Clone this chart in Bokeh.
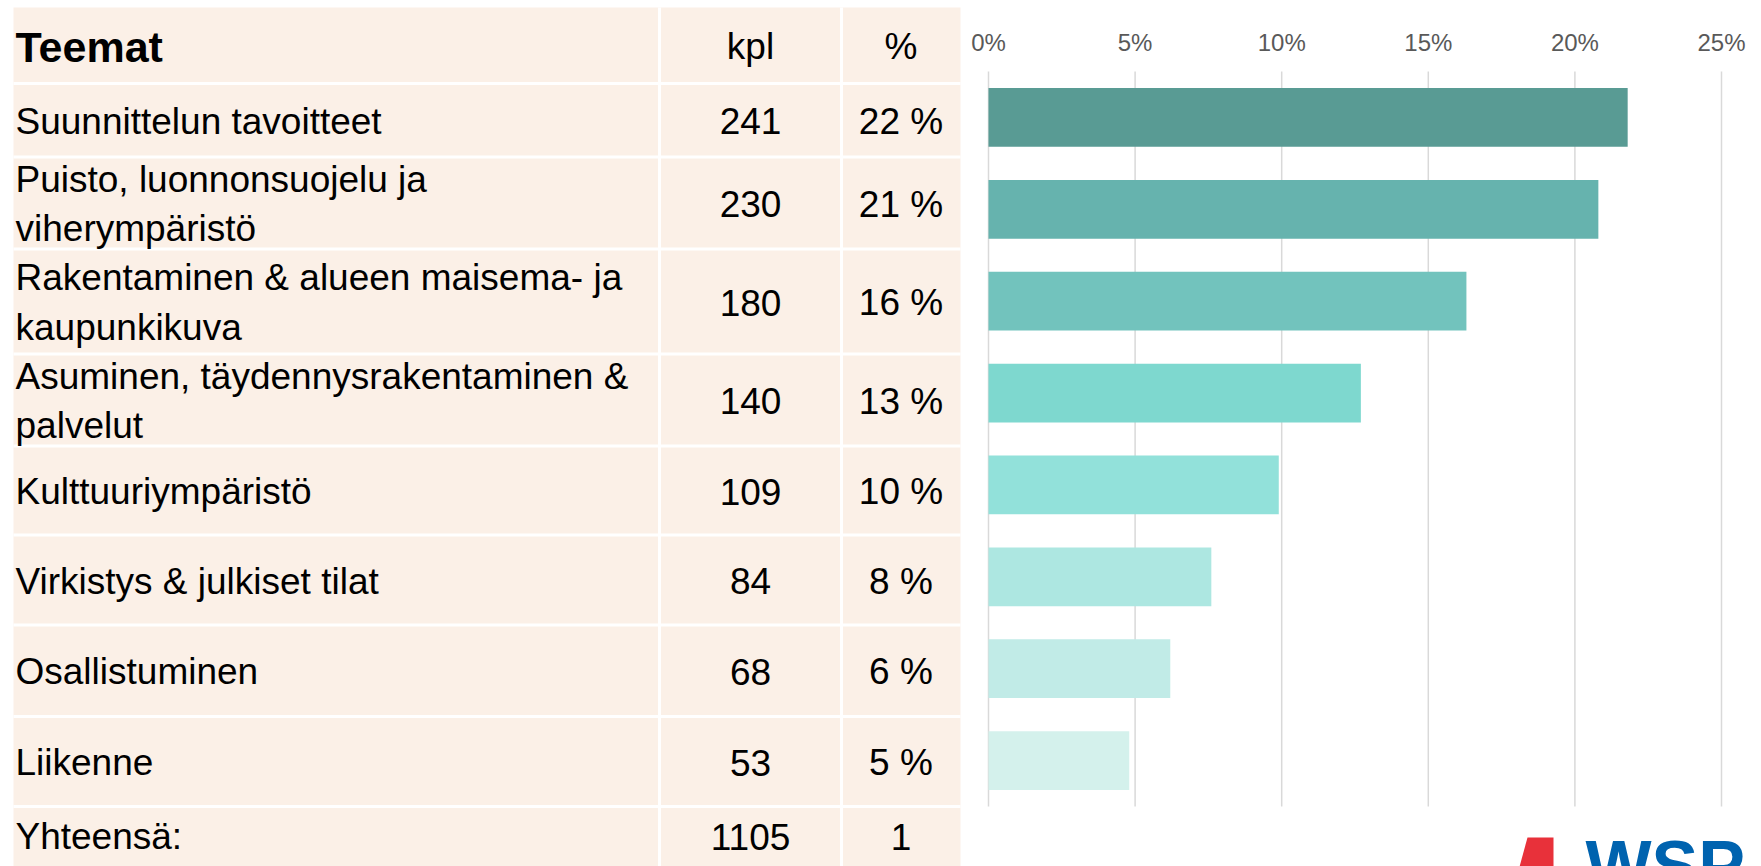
from bokeh.plotting import figure
from bokeh.models import Range1d
from bokeh.core.properties import value
from bokeh.embed import file_html
from bokeh.resources import INLINE

# ---------------- data ----------------
header = ["Teemat", "kpl", "%"]
themes = [
    "Suunnittelun tavoitteet",
    "Puisto, luonnonsuojelu ja\nviherympäristö",
    "Rakentaminen & alueen maisema- ja\nkaupunkikuva",
    "Asuminen, täydennysrakentaminen &\npalvelut",
    "Kulttuuriympäristö",
    "Virkistys & julkiset tilat",
    "Osallistuminen",
    "Liikenne",
]
counts = [241, 230, 180, 140, 109, 84, 68, 53]
pct_labels = ["22 %", "21 %", "16 %", "13 %", "10 %", "8 %", "6 %", "5 %"]
shares = [21.8, 20.8, 16.3, 12.7, 9.9, 7.6, 6.2, 4.8]
total_row = ["Yhteensä:", "1105", "1"]
tick_values = [0, 5, 10, 15, 20, 25]
tick_labels = ["0%", "5%", "10%", "15%", "20%", "25%"]
bar_colors = ["#599B94", "#66B3AE", "#72C3BD", "#7ED8CF",
              "#92E1DA", "#ADE7E1", "#C1EBE7", "#D4F1EC"]

# ---------------- style / layout (pixel coordinates of the picture) ----------------
FONT = value("Liberation Sans")
CREAM = "#FBF0E7"
W, H = 1761, 866
row_edges = [7, 83, 156.5, 248.5, 353.5, 445.5, 534.5, 624.5, 716, 806, 866]
col_edges = [13, 659, 841, 960]
text_x = [15, (col_edges[1] + col_edges[2]) / 2, (col_edges[2] + col_edges[3]) / 2]

# chart area: 0 % at x 988, 25 % at 1721; bars spaced over y 71..806
X0, X25 = 988.0, 1721.0
px_per_pct = (X25 - X0) / 25.0
GTOP, GBOT = 71.0, 806.0
px_per_bar = (GBOT - GTOP) / len(themes)

p = figure(width=W, height=H, x_range=Range1d(0, W), y_range=Range1d(H, 0),
           x_axis_location=None, y_axis_location=None, min_border=0,
           output_backend="svg", toolbar_location=None)
p.grid.visible = False
p.outline_line_color = None
p.background_fill_color = "white"
p.extra_x_ranges = {"pct": Range1d(-X0 / px_per_pct, (W - X0) / px_per_pct)}
p.extra_y_ranges = {"idx": Range1d(-0.5 + (H - GTOP) / px_per_bar,
                                   -0.5 - GTOP / px_per_bar)}

# ---------------- table ----------------
p.quad(left=col_edges[0], right=col_edges[-1], top=row_edges[0], bottom=row_edges[-1] + 10,
       fill_color=CREAM, line_color=None)
inner_rows = row_edges[1:-1]
p.segment(x0=[col_edges[0]] * len(inner_rows), x1=[col_edges[-1]] * len(inner_rows),
          y0=inner_rows, y1=inner_rows, line_color="white", line_width=3)
inner_cols = col_edges[1:-1]
p.segment(x0=inner_cols, x1=inner_cols, y0=[row_edges[0]] * len(inner_cols),
          y1=[row_edges[-1] + 10] * len(inner_cols), line_color="white", line_width=3)

centers = [(row_edges[i] + row_edges[i + 1]) / 2 + 1 for i in range(len(row_edges) - 1)]
centers[-1] = 836

p.text(x=[text_x[0]], y=[centers[0]], text=[header[0]], text_font=FONT,
       text_font_size="43px", text_font_style="bold", text_align="left",
       text_baseline="middle", text_color="black")
p.text(x=text_x[1:], y=[centers[0]] * 2, text=header[1:], text_font=FONT,
       text_font_size="37px", text_align="center", text_baseline="middle", text_color="black")

body_y = centers[1:1 + len(themes)]
p.text(x=[text_x[0]] * len(themes), y=body_y, text=themes, text_font=FONT,
       text_font_size="37px", text_align="left", text_baseline="middle",
       text_line_height=1.2, text_color="black")
p.text(x=[text_x[1]] * len(counts), y=body_y, text=[str(c) for c in counts], text_font=FONT,
       text_font_size="37px", text_align="center", text_baseline="middle", text_color="black")
p.text(x=[text_x[2]] * len(pct_labels), y=body_y, text=pct_labels, text_font=FONT,
       text_font_size="37px", text_align="center", text_baseline="middle", text_color="black")

p.text(x=[text_x[0]], y=[centers[-1]], text=[total_row[0]], text_font=FONT,
       text_font_size="37px", text_align="left", text_baseline="middle", text_color="black")
p.text(x=text_x[1:], y=[centers[-1]] * 2, text=total_row[1:], text_font=FONT,
       text_font_size="37px", text_align="center", text_baseline="middle", text_color="black")

# ---------------- bar chart ----------------
n = len(themes)
p.segment(x0=tick_values, x1=tick_values, y0=[-0.5] * len(tick_values),
          y1=[n - 0.5] * len(tick_values), x_range_name="pct", y_range_name="idx",
          line_color="#D9D9D9", line_width=1.5)
p.hbar(y=list(range(n)), left=0, right=shares, height=0.64, fill_color=bar_colors,
       line_color=None, x_range_name="pct", y_range_name="idx")
p.text(x=tick_values, y=[42] * len(tick_values), text=tick_labels, x_range_name="pct",
       text_font=FONT, text_font_size="24px", text_color="#595959",
       text_align="center", text_baseline="middle")

# WSP logo (decoration, partly cut by the picture edge)
p.patch(x=[1518, 1527, 1553, 1553], y=[870, 837, 837, 870], fill_color="#E8313A", line_color=None)
p.text(x=[1585], y=[826], text=["WSP"], text_font=FONT, text_font_style="bold",
       text_font_size="70px", text_color="#0063AF", text_align="left", text_baseline="top")

open("out.html", "w").write(file_html(p, INLINE))
